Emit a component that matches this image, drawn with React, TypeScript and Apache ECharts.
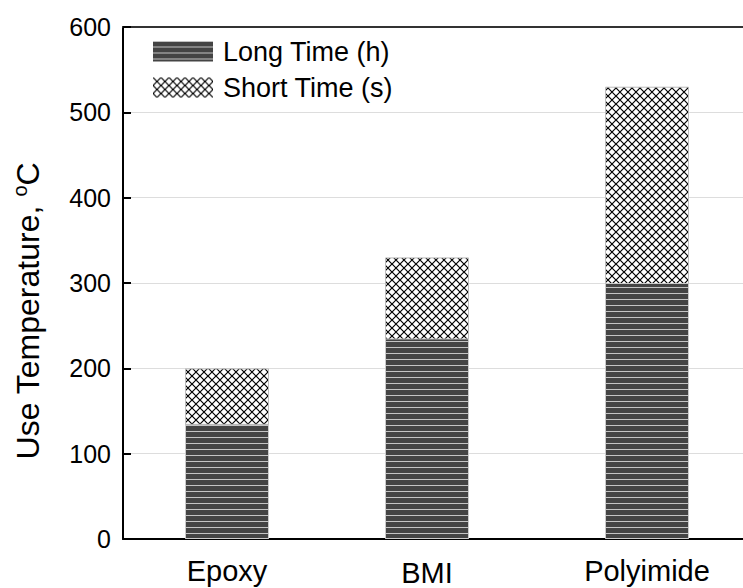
import React, { useEffect, useRef } from 'react';
import * as echarts from 'echarts';

const categories = ['Epoxy', 'BMI', 'Polyimide'];
const positions = [5.2, 15.2, 26.2];
const longTime = [135, 235, 300];
const shortTime = [65, 95, 230];
const labelDistance = [22, 24, 22];

const FONT = 'Liberation Sans, Arial, sans-serif';

function stripeTile() {
  const c = document.createElement('canvas');
  c.width = 6;
  c.height = 6;
  const ctx = c.getContext('2d')!;
  ctx.fillStyle = '#444444';
  ctx.fillRect(0, 0, 6, 6);
  ctx.fillStyle = '#c4c4c4';
  ctx.fillRect(0, 5, 6, 1);
  return c;
}

function hatchTile() {
  const c = document.createElement('canvas');
  c.width = 8;
  c.height = 8;
  const ctx = c.getContext('2d')!;
  ctx.fillStyle = '#ffffff';
  ctx.fillRect(0, 0, 8, 8);
  ctx.strokeStyle = '#000000';
  ctx.lineWidth = 1.2;
  ctx.beginPath();
  ctx.moveTo(-1, -1);
  ctx.lineTo(9, 9);
  ctx.moveTo(9, -1);
  ctx.lineTo(-1, 9);
  ctx.stroke();
  return c;
}

export default function App() {
  const ref = useRef<HTMLDivElement>(null);
  useEffect(() => {
    document.body.style.margin = '0';
    if (!ref.current) return;
    const chart = echarts.init(ref.current, null, { renderer: 'svg' });
    const stripes = { image: stripeTile(), repeat: 'repeat' };
    const hatch = { image: hatchTile(), repeat: 'repeat' };
    const totals = longTime.map((v, i) => v + shortTime[i]);
    chart.setOption({
      animation: false,
      backgroundColor: '#ffffff',
      grid: { left: 123, right: 0, top: 27, bottom: 49, containLabel: false },
      legend: {
        orient: 'vertical',
        left: 153,
        top: 38,
        padding: 0,
        icon: 'rect',
        itemWidth: 60,
        itemHeight: 20,
        itemGap: 9,
        itemStyle: { borderWidth: 0 },
        textStyle: { fontSize: 27, color: '#000', fontFamily: FONT, padding: [0, 0, 0, 5] },
        data: ['Long Time (h)', 'Short Time (s)'],
      },
      xAxis: [
        {
          type: 'value',
          min: 0,
          max: 31,
          axisLine: { show: true, onZero: false, lineStyle: { color: '#000', width: 2 } },
          axisTick: { show: false },
          axisLabel: { show: false },
          splitLine: { show: false },
        },
        {
          type: 'value',
          position: 'top',
          min: 0,
          max: 31,
          axisLine: { show: true, onZero: false, lineStyle: { color: '#333', width: 2 } },
          axisTick: { show: false },
          axisLabel: { show: false },
          splitLine: { show: false },
        },
      ],
      yAxis: {
        type: 'value',
        min: 0,
        max: 600,
        interval: 100,
        axisLine: { show: true, lineStyle: { color: '#000', width: 2 } },
        axisTick: { show: true, inside: true, length: 8, lineStyle: { color: '#000', width: 2 } },
        axisLabel: { fontSize: 25, color: '#000', fontFamily: FONT, margin: 12 },
        splitLine: { show: true, lineStyle: { color: '#dddddd', width: 1 } },
      },
      graphic: [
        {
          type: 'text',
          x: 28,
          y: 311,
          rotation: Math.PI / 2,
          style: {
            text: 'Use Temperature, {sup|o}C',
            fontSize: 32,
            fontFamily: FONT,
            fill: '#000',
            align: 'center',
            verticalAlign: 'middle',
            rich: {
              sup: { fontSize: 20, fontFamily: FONT, fill: '#000', padding: [0, 0, 16, 0] },
            },
          },
        },
      ],
      series: [
        {
          name: 'Short Time (s)',
          type: 'bar',
          barWidth: 84,
          barGap: '-100%',
          itemStyle: { color: hatch, borderColor: '#bbbbbb', borderWidth: 1 },
          data: positions.map((x, i) => [x, totals[i]]),
        },
        {
          name: 'Long Time (h)',
          type: 'bar',
          barWidth: 84,
          barGap: '-100%',
          itemStyle: { color: stripes, borderColor: '#cccccc', borderWidth: 1 },
          label: {
            show: true,
            position: 'bottom',
            fontSize: 29,
            lineHeight: 20,
            color: '#000',
            fontFamily: FONT,
            formatter: (p: any) => categories[p.dataIndex],
          },
          data: positions.map((x, i) => ({
            value: [x, longTime[i]],
            label: { distance: labelDistance[i] },
          })),
        },
      ],
    });
    return () => chart.dispose();
  }, []);
  return <div ref={ref} style={{ width: 743, height: 588 }} />;
}
